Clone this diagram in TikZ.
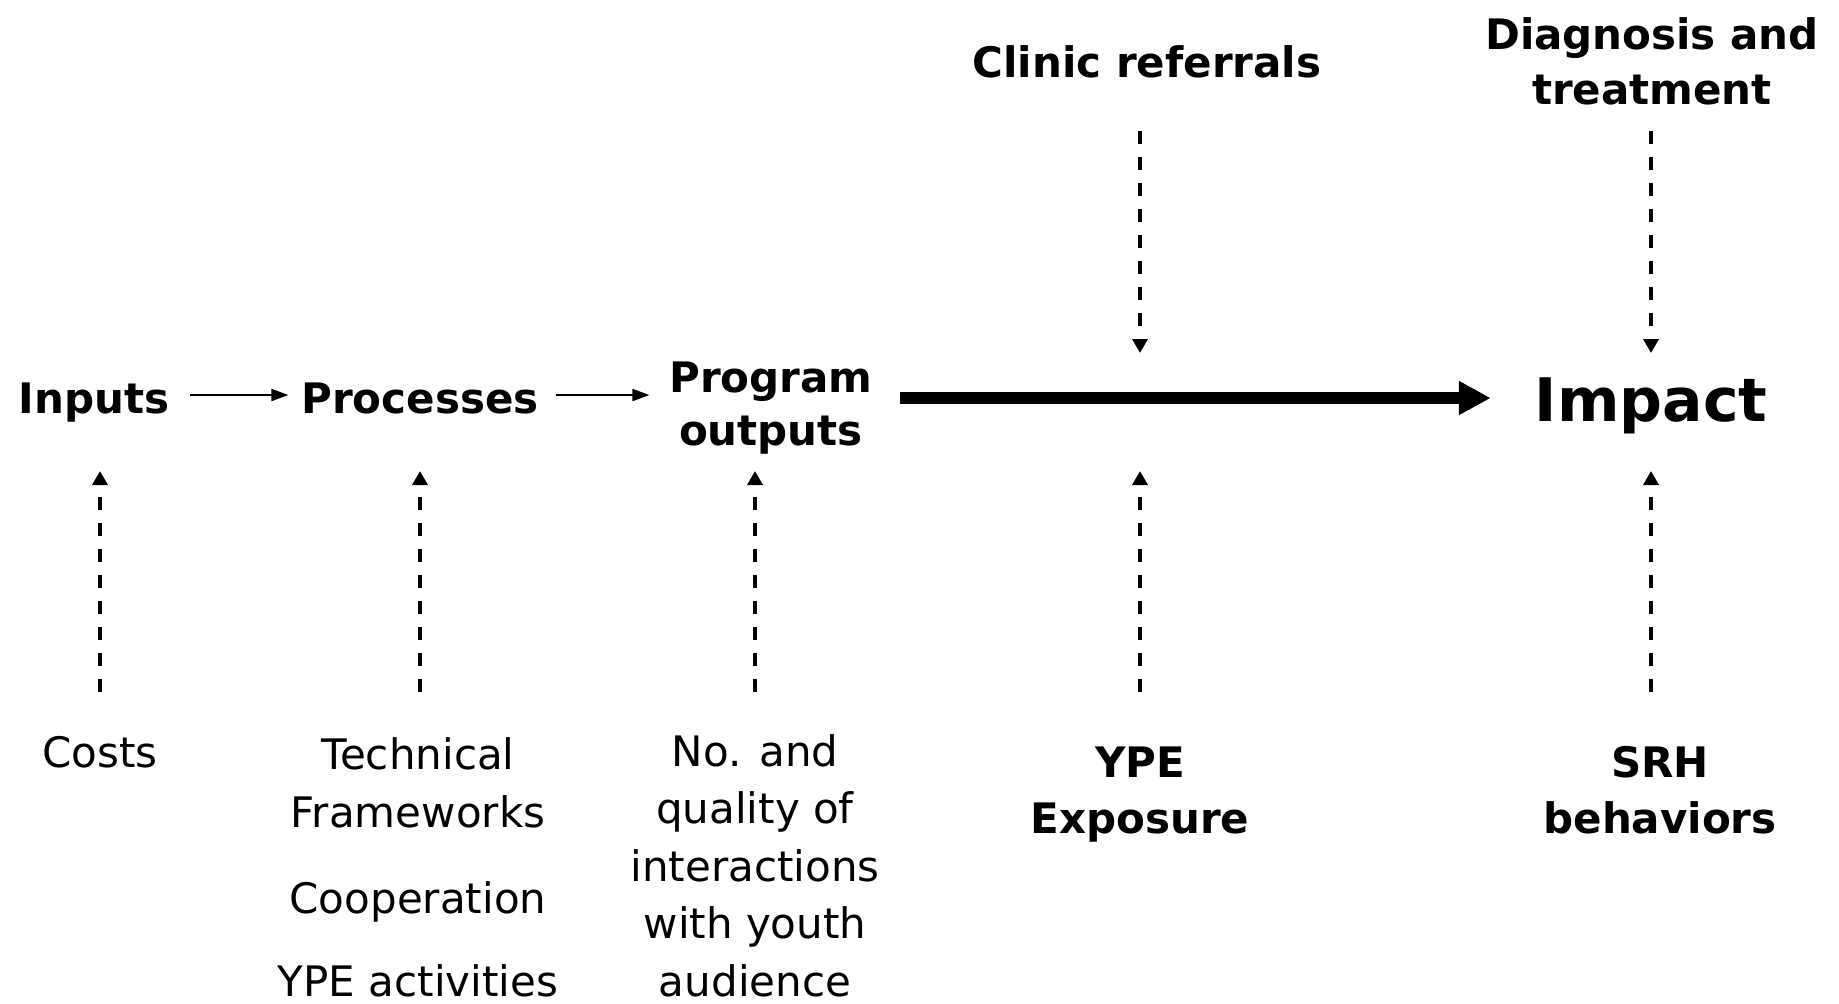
\documentclass[tikz,border=0pt]{standalone}
\usepackage{fontspec}
\setmainfont{DejaVu Sans}
\usetikzlibrary{arrows.meta}
\begin{document}
\begin{tikzpicture}[x=0.5pt,y=-0.5pt,
  txt/.style={inner sep=0pt, outer sep=0pt, anchor=base, align=center,
    font=\fontsize{21}{#1}\selectfont},
  txt/.default=28.75,
  hd/.style={inner sep=0pt, outer sep=0pt, anchor=base, align=center,
    font=\fontsize{21}{#1}\selectfont\bfseries},
  hd/.default=27.5,
  darr/.style={line width=1.8pt, dash pattern=on 6.5pt off 6.5pt,
    -{Triangle[length=7pt,width=7.5pt]}},
  sarr/.style={line width=1pt, -{Triangle[length=8.5pt,width=6pt]}},
  bigarr/.style={line width=6pt, -{Triangle[length=16pt,width=16pt]}}
]
\useasboundingbox (0,0) rectangle (1839,1003);

% main row (anchor = baseline of the last line)
\node[hd] (inputs) at (94,413) {Inputs};
\node[hd] (processes) at (420,413) {Processes};
\node[hd=26.5] (prog) at (771,445) {Program\\outputs};
\node[inner sep=0pt, outer sep=0pt, anchor=base,
  font=\fontsize{30}{35}\selectfont\bfseries] (impact) at (1651,421) {Impact};

% top labels
\node[hd] (clinic) at (1147,77) {Clinic referrals};
\node[hd=27.5] (diag) at (1652,104) {Diagnosis and\\treatment};

% bottom labels
\node[txt] (costs) at (100,767) {Costs};
\node[txt] (tech) at (418,827) {Technical\\Frameworks};
\node[txt] (coop) at (418,913) {Cooperation};
\node[txt] (ypeact) at (418,996) {YPE activities};
\node[txt] (noand) at (755,996) {No. and\\quality of\\interactions\\with youth\\audience};
\node[hd=28] (ype) at (1140,833) {YPE\\Exposure};
\node[hd=28] (srh) at (1660,833) {SRH\\behaviors};

% helper levels
\coordinate (ya) at (0,395);
\coordinate (ym) at (0,398);
\coordinate (ytop) at (0,131);
\coordinate (ydown) at (0,353);
\coordinate (ybot) at (0,692);
\coordinate (yup) at (0,471);

% solid arrows
\draw[sarr, shorten <=10.5pt, shorten >=6.5pt] (inputs.east |- ya) -- (processes.west |- ya);
\draw[sarr, shorten <=8.5pt, shorten >=10pt] (processes.east |- ya) -- (prog.west |- ya);
\draw[bigarr, shorten <=13.5pt, shorten >=22pt] (prog.east |- ym) -- (impact.west |- ym);

% dashed arrows down
\draw[darr] (ype |- ytop) -- (ype |- ydown);
\draw[darr] (impact |- ytop) -- (impact |- ydown);

% dashed arrows up
\draw[darr] (costs |- ybot) -- (costs |- yup);
\draw[darr] (processes |- ybot) -- (processes |- yup);
\draw[darr] (noand |- ybot) -- (noand |- yup);
\draw[darr] (ype |- ybot) -- (ype |- yup);
\draw[darr] (impact |- ybot) -- (impact |- yup);
\end{tikzpicture}
\end{document}
